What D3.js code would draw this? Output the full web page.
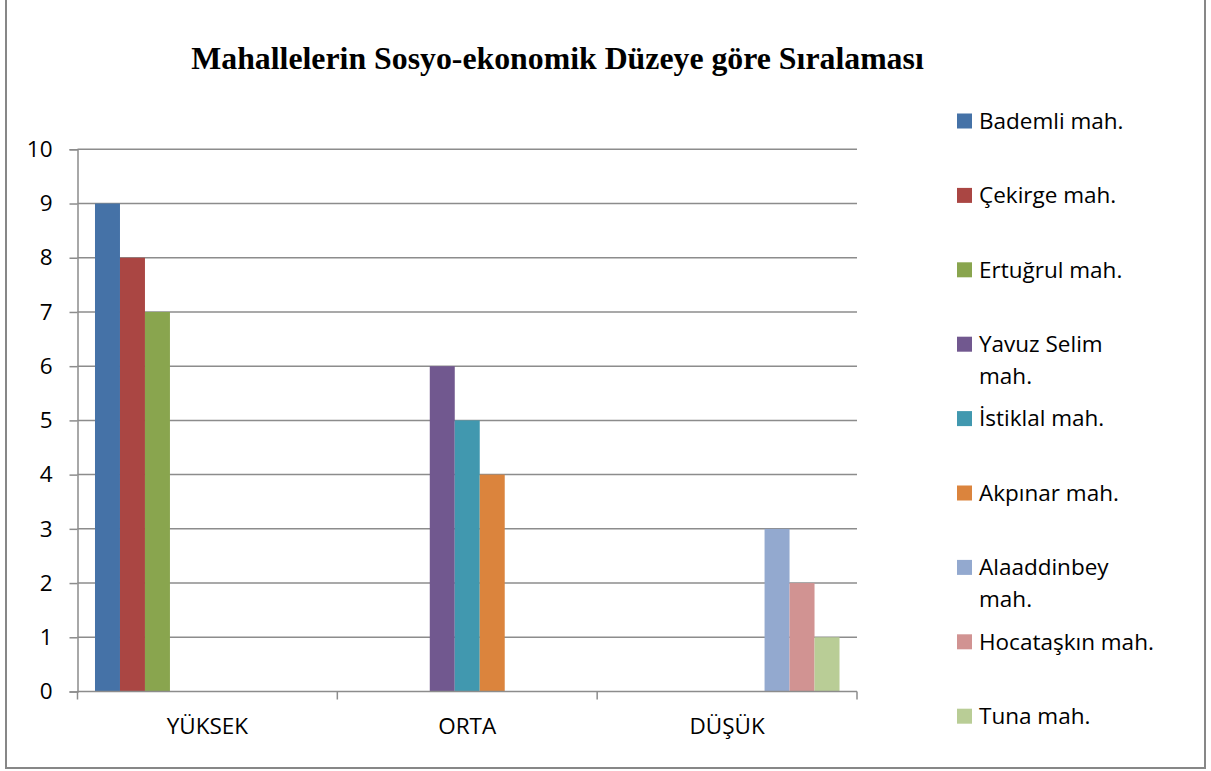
<!DOCTYPE html>
<html>
<head>
<meta charset="utf-8">
<script src="https://cdn.jsdelivr.net/npm/d3@7"></script>
<style>
  html, body { margin: 0; padding: 0; background: #fff; }
  svg { display: block; }
</style>
</head>
<body>
<svg id="chart" width="1211" height="771"></svg>
<script>
// ---- data ----
const title = "Mahallelerin Sosyo-ekonomik Düzeye göre Sıralaması";
const categories = ["YÜKSEK", "ORTA", "DÜŞÜK"];
const seriesNames = ["Bademli mah.", "Çekirge mah.", "Ertuğrul mah.", "Yavuz Selim mah.", "İstiklal mah.", "Akpınar mah.", "Alaaddinbey mah.", "Hocataşkın mah.", "Tuna mah."];
const legendLines = [["Bademli mah."], ["Çekirge mah."], ["Ertuğrul mah."], ["Yavuz Selim", "mah."], ["İstiklal mah."], ["Akpınar mah."], ["Alaaddinbey", "mah."], ["Hocataşkın mah."], ["Tuna mah."]];
const bademli     = [9, null, null];
const cekirge     = [8, null, null];
const ertugrul    = [7, null, null];
const yavuzSelim  = [null, 6, null];
const istiklal    = [null, 5, null];
const akpinar     = [null, 4, null];
const alaaddinbey = [null, null, 3];
const hocataskin  = [null, null, 2];
const tuna        = [null, null, 1];
const seriesValues = [bademli, cekirge, ertugrul, yavuzSelim, istiklal, akpinar, alaaddinbey, hocataskin, tuna];
const yTicks = [0, 1, 2, 3, 4, 5, 6, 7, 8, 9, 10];
const colors = ["#4572A7", "#AA4643", "#89A54E", "#71588F", "#4198AF", "#DB843D", "#93A9CF", "#D19392", "#B9CD96"];

// ---- layout ----
const svg = d3.select("#chart");
const plot = { left: 77.5, right: 857, top: 149.3, bottom: 691.5 };
const font = "'Open Sans', sans-serif";
const fs = 22.5;

// chart frame
svg.append("rect")
  .attr("x", 6).attr("y", -2).attr("width", 1199).attr("height", 770)
  .attr("fill", "#fff").attr("stroke", "#878787").attr("stroke-width", 2);

// title
svg.append("text")
  .attr("x", 557.5).attr("y", 69)
  .attr("text-anchor", "middle")
  .attr("font-family", "'Liberation Serif', 'Times New Roman', serif")
  .attr("font-weight", "bold").attr("font-size", 31.8)
  .attr("fill", "#000")
  .text(title);

const x0 = d3.scaleBand().domain(categories).range([plot.left, plot.right]).paddingInner(0).paddingOuter(0);
const x1 = d3.scaleBand().domain(seriesNames).range([0, x0.bandwidth()]).paddingInner(0).paddingOuter(0.7);
const y = d3.scaleLinear().domain([0, 10]).range([plot.bottom, plot.top]);
const color = d3.scaleOrdinal().domain(seriesNames).range(colors);

// gridlines
svg.append("g").selectAll("line").data(yTicks.filter(d => d > 0)).join("line")
  .attr("x1", plot.left).attr("x2", plot.right)
  .attr("y1", d => y(d)).attr("y2", d => y(d))
  .attr("stroke", "#8c8c8c").attr("stroke-width", 1.5);

// bars
const flat = [];
seriesNames.forEach((s, si) => {
  categories.forEach((c, ci) => {
    const v = seriesValues[si][ci];
    if (v != null) flat.push({ s, c, v });
  });
});
svg.append("g").selectAll("rect").data(flat).join("rect")
  .attr("x", d => x0(d.c) + x1(d.s))
  .attr("width", x1.bandwidth())
  .attr("y", d => y(d.v))
  .attr("height", d => y(0) - y(d.v))
  .attr("fill", d => color(d.s));

// y axis
const yAxis = d3.axisLeft(y).tickValues(yTicks).tickSize(8).tickPadding(17).tickFormat(d3.format("d"));
const gy = svg.append("g").attr("transform", `translate(${plot.left},0)`).call(yAxis);
gy.select(".domain").attr("stroke", "#8c8c8c").attr("stroke-width", 1.5);
gy.selectAll(".tick line").attr("stroke", "#8c8c8c").attr("stroke-width", 1.5);
gy.selectAll(".tick text").attr("font-family", font).attr("font-size", fs).attr("fill", "#000");

// x axis
const xTickScale = d3.scaleLinear().domain([0, categories.length]).range([plot.left, plot.right]);
const gx = svg.append("g");
gx.append("line").attr("x1", plot.left).attr("x2", plot.right).attr("y1", plot.bottom).attr("y2", plot.bottom)
  .attr("stroke", "#8c8c8c").attr("stroke-width", 1.5);
gx.selectAll("line.tk").data(d3.range(categories.length + 1)).join("line").attr("class", "tk")
  .attr("x1", d => xTickScale(d)).attr("x2", d => xTickScale(d))
  .attr("y1", plot.bottom).attr("y2", plot.bottom + 8)
  .attr("stroke", "#8c8c8c").attr("stroke-width", 1.5);
gx.selectAll("text").data(categories).join("text")
  .attr("x", d => x0(d) + x0.bandwidth() / 2)
  .attr("y", 733.5)
  .attr("text-anchor", "middle")
  .attr("font-family", font).attr("font-size", fs).attr("fill", "#000")
  .text(d => d);

// legend
const legendStart = 121, legendStep = 74.4, lineH = 32;
const lg = svg.append("g").selectAll("g").data(seriesNames).join("g")
  .attr("transform", (d, i) => `translate(957, ${legendStart + i * legendStep})`);
lg.append("rect").attr("x", 0).attr("y", -7.5).attr("width", 15).attr("height", 15)
  .attr("fill", d => color(d));
lg.each(function(d, i) {
  const t = d3.select(this).append("text")
    .attr("x", 22).attr("y", 0)
    .attr("font-family", font).attr("font-size", fs).attr("fill", "#000");
  legendLines[i].forEach((ln, li) => {
    t.append("tspan").attr("x", 22).attr("y", li * lineH).attr("dy", "0.35em").text(ln);
  });
});
</script>
</body>
</html>
